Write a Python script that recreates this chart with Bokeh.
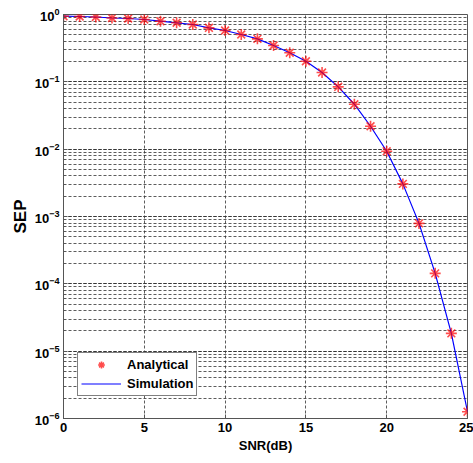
from bokeh.plotting import figure
from bokeh.models import Range1d, FixedTicker, LogTicker, Legend, LegendItem
from bokeh.embed import file_html
from bokeh.resources import INLINE

snr_db = list(range(0, 26))
sep_analytical = [0.944, 0.934, 0.918, 0.887, 0.872, 0.843, 0.795, 0.753, 0.710, 0.634,
                  0.578, 0.505, 0.435, 0.346, 0.270, 0.202, 0.1375, 0.0843, 0.0465, 0.0219,
                  0.0093, 0.00305, 7.9e-4, 1.43e-4, 1.84e-5, 1.26e-6]
sep_simulation = [0.944, 0.934, 0.918, 0.887, 0.872, 0.843, 0.795, 0.753, 0.710, 0.634,
                  0.578, 0.505, 0.435, 0.346, 0.270, 0.202, 0.1375, 0.0843, 0.0465, 0.0219,
                  0.0093, 0.00305, 7.9e-4, 1.43e-4, 1.84e-5, 1.26e-6]
x_ticks = [0, 5, 10, 15, 20, 25]

FONT = "Liberation Sans"

p = figure(width=473, height=463, output_backend="svg", toolbar_location=None,
           y_axis_type="log", x_range=Range1d(0, 25), y_range=Range1d(1e-6, 1),
           min_border_left=63, min_border_right=6, min_border_top=14, min_border_bottom=45)
p.background_fill_color = "white"
p.border_fill_color = "white"
p.outline_line_color = "#555555"
p.outline_line_width = 1

line_r = p.line(snr_db, sep_simulation, line_color="blue", line_width=1.2)
star_r = p.scatter(snr_db, sep_analytical, marker="asterisk", size=11,
                   line_color="red", line_width=1.6, line_alpha=0.7)

p.xaxis.ticker = FixedTicker(ticks=x_ticks)
p.yaxis.ticker = LogTicker(mantissas=[1], num_minor_ticks=10)

for ax in (p.xaxis[0], p.yaxis[0]):
    ax.major_label_text_font = FONT
    ax.major_label_text_font_style = "bold"
    ax.major_label_text_font_size = "13px"
    ax.major_label_text_color = "black"
    ax.axis_label_text_font = FONT
    ax.axis_label_text_font_style = "bold"
    ax.axis_label_text_color = "black"
    ax.axis_line_color = "#555555"
    ax.major_tick_in = 4
    ax.major_tick_out = 0
    ax.minor_tick_in = 2
    ax.minor_tick_out = 0
    ax.major_tick_line_color = "#555555"
    ax.minor_tick_line_color = "#555555"

p.xaxis.minor_tick_line_color = None
p.xaxis.axis_label = "SNR(dB)"
p.xaxis.axis_label_text_font_size = "13px"
p.xaxis.axis_label_standoff = 3
p.xaxis.major_label_standoff = 4
p.yaxis.axis_label = "SEP"
p.yaxis.axis_label_text_font_size = "17px"
p.yaxis.axis_label_standoff = 2
p.yaxis.major_label_standoff = 4

grid_color = "#333333"
p.xgrid.grid_line_color = grid_color
p.xgrid.grid_line_dash = "3 2"
p.xgrid.grid_line_alpha = 0.8
p.ygrid.grid_line_color = grid_color
p.ygrid.grid_line_dash = "3 2"
p.ygrid.grid_line_alpha = 0.8
p.ygrid.minor_grid_line_color = grid_color
p.ygrid.minor_grid_line_dash = "3 2"
p.ygrid.minor_grid_line_alpha = 0.8

legend = Legend(items=[LegendItem(label="Analytical", renderers=[star_r]),
                       LegendItem(label="Simulation", renderers=[line_r])],
                location=(14, 22))
legend.label_text_font = FONT
legend.label_text_font_style = "bold"
legend.label_text_font_size = "13px"
legend.label_text_color = "black"
legend.border_line_color = "black"
legend.border_line_width = 1
legend.glyph_width = 40
legend.glyph_height = 17
legend.label_height = 17
legend.spacing = 2
legend.padding = 3
legend.margin = 0
legend.label_standoff = 6
legend.background_fill_alpha = 1
p.add_layout(legend, "center")

open("out.html", "w").write(file_html(p, INLINE))
